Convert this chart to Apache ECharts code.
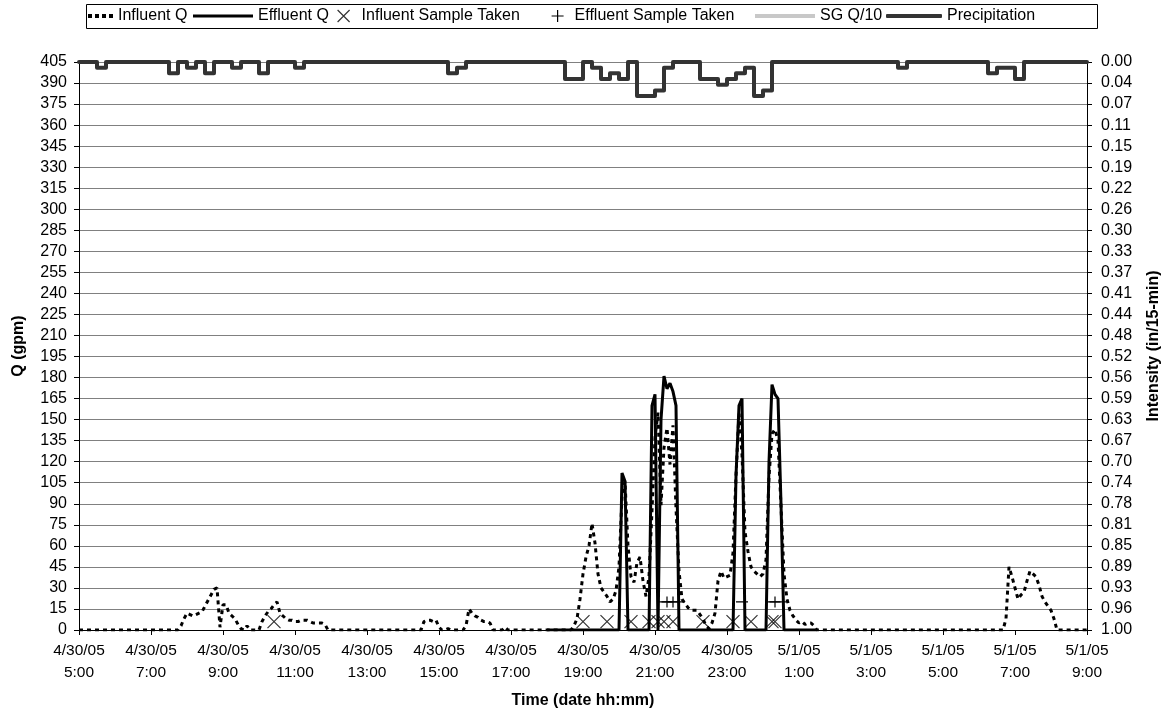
<!DOCTYPE html>
<html>
<head>
<meta charset="utf-8">
<script src="https://cdn.jsdelivr.net/npm/echarts@6/dist/echarts.min.js"></script>
<style>
  html, body { margin: 0; padding: 0; background: #fff; }
  #chart { width: 1165px; height: 717px; }
</style>
</head>
<body>
<div id="chart"></div>
<script>
// Time is counted in minutes after 4/30/05 5:00; flows are logged every 5 minutes.
const STEP_MIN = 5;
const RAIN_STEP_MIN = 15;

// x-axis tick labels (every 2 hours)
const xTickDates = ['4/30/05','4/30/05','4/30/05','4/30/05','4/30/05','4/30/05','4/30/05','4/30/05','4/30/05','4/30/05','5/1/05','5/1/05','5/1/05','5/1/05','5/1/05'];
const xTickTimes = ['5:00','7:00','9:00','11:00','13:00','15:00','17:00','19:00','21:00','23:00','1:00','3:00','5:00','7:00','9:00'];

// Influent Q (gpm), one row per clock hour, 12 readings each, 4/30 5:00 .. 5/1 9:00
const influentQ = [
  /* 05 */ 0,0,0,0,0,0,0,0,0,0,0,0,
  /* 06 */ 0,0,0,0,0,0,0,0,0,0,0,0,
  /* 07 */ 0,0,0,0,0,0,0,0,0,0,3,8,
  /* 08 */ 12,11,10,11,12,13,17,21,25,29,30,2,
  /* 09 */ 18,18,12,10,8,4,1,0,3,0,0,0,
  /* 10 */ 0,6,10,13,15,18,20,12,10,8,7,7,
  /* 11 */ 6,6,7,7,7,6,5,5,5,5,4,0,
  /* 12 */ 0,0,0,0,0,0,0,0,0,0,0,0,
  /* 13 */ 0,0,0,0,0,0,0,0,0,0,0,0,
  /* 14 */ 0,0,0,0,0,0,0,6,7,7,6,7,
  /* 15 */ 2,0,0,1,0,0,0,0,0,3,15,12,
  /* 16 */ 10,9,7,6,6,5,0,0,0,0,2,0,
  /* 17 */ 0,0,0,0,0,0,0,0,0,0,0,0,
  /* 18 */ 0,0,0,0,0,0,0,0,0,3,8,22,
  /* 19 */ 40,52,60,76,62,40,30,27,24,20,22,28,
  /* 20 */ 45,95,106,60,38,34,48,52,35,24,38,85,
  /* 21 */ 137,155,89,130,144,118,146,87,42,22,19,16,
  /* 22 */ 14,14,14,11,8,3,1,5,12,35,42,37,
  /* 23 */ 38,39,55,110,155,125,70,56,45,42,40,38,
  /* 00 */ 40,50,109,140,143,135,88,40,22,14,10,7,
  /* 01 */ 5,6,4,5,5,3,0,0,0,0,0,0,
  /* 02 */ 0,0,0,0,0,0,0,0,0,0,0,0,
  /* 03 */ 0,0,0,0,0,0,0,0,0,0,0,0,
  /* 04 */ 0,0,0,0,0,0,0,0,0,0,0,0,
  /* 05 */ 0,0,0,0,0,0,0,0,0,0,0,0,
  /* 06 */ 0,0,0,0,0,0,0,0,0,8,45,38,
  /* 07 */ 30,22,25,27,35,42,40,38,32,24,20,17,
  /* 08 */ 14,8,0,0,0,0,0,0,0,0,0,0,
  /* 09 */ 0
];

// Effluent Q (gpm), logged from 4/30 18:00 to 5/1 1:30
const effluentStart = '18:00';
const effluentQ = [
  /* 18 */ 0,0,0,0,0,0,0,0,0,0,0,0,
  /* 19 */ 0,0,0,0,0,0,0,0,0,0,0,0,
  /* 20 */ 0,112,106,0,0,0,0,0,0,0,0,160,
  /* 21 */ 168,0,150,181,172,176,170,160,0,0,0,0,
  /* 22 */ 0,0,0,0,0,0,0,0,0,0,0,0,
  /* 23 */ 0,0,0,110,160,165,0,0,0,0,0,0,
  /* 00 */ 0,0,120,175,168,165,90,0,0,0,0,0,
  /* 01 */ 0,0,0,0,0,0,0
];

// Sample events
const influentSampleTimes = ['10:25','19:00','19:40','20:20','20:50','21:05','21:15','21:30','22:20','23:10','23:40','0:15','0:20'];
const influentSampleQ = 6;
const effluentSampleTimes = ['21:20','21:30','0:20'];
const effluentSampleSpans = [['21:05','21:50'], ['23:15','23:35'], ['0:05','0:40']];
const effluentSampleQ = 20;

// Precipitation (in per 15 min), one value per 15-minute interval starting 4/30 5:00
const precipitation = [
  /* 05-06 */ 0,0,0.01,0,0,0,0,0,
  /* 07-08 */ 0,0,0.02,0,0.01,0,0.02,0,
  /* 09-10 */ 0,0.01,0,0,0.02,0,0,0,
  /* 11-12 */ 0.01,0,0,0,0,0,0,0,
  /* 13-14 */ 0,0,0,0,0,0,0,0,
  /* 15-16 */ 0,0.02,0.01,0,0,0,0,0,
  /* 17-18 */ 0,0,0,0,0,0,0.03,0.03,
  /* 19-20 */ 0,0.01,0.03,0.02,0.03,0,0.06,0.06,
  /* 21-22 */ 0.05,0.01,0,0,0,0.03,0.03,0.04,
  /* 23-00 */ 0.03,0.02,0.01,0.06,0.05,0,0,0,
  /* 01-02 */ 0,0,0,0,0,0,0,0,
  /* 03-04 */ 0,0,0,0.01,0,0,0,0,
  /* 05-06 */ 0,0,0,0,0,0.02,0.01,0.01,
  /* 07-08 */ 0.03,0,0,0,0,0,0,0
];

// SG Q/10 has no readings in this window
const sgQ10 = [];

const X_MAX = 28 * 60;
const Q_MAX = 405, Q_STEP = 15;
const RAIN_DIVS = 27;

// clock "h:mm" -> minutes after 4/30 5:00 (hours before 5 belong to 5/1)
function at(clock) {
  const [h, m] = clock.split(':').map(Number);
  const hh = h < 5 ? h + 24 : h;
  return (hh - 5) * 60 + m;
}

const PLUS_ICON = 'path://M5,0L5,10M0,5L10,5';
const X_ICON = 'path://M0,0L10,10M10,0L0,10';

const influentData = influentQ.map((v, i) => [i * STEP_MIN, v]);
const effluentData = effluentQ.map((v, i) => [at(effluentStart) + i * STEP_MIN, v]);
const precipData = precipitation.map((v, i) => [i * RAIN_STEP_MIN, v]);
precipData.push([X_MAX, precipitation[precipitation.length - 1]]);
const influentSampleData = influentSampleTimes.map(t => [at(t), influentSampleQ]);

// effluent sample markers, each with its sampling span drawn as a horizontal bar
const effluentSampleData = [];
effluentSampleSpans.forEach(([a, b], gi) => {
  const pts = [at(a), at(b)];
  effluentSampleTimes.forEach(t => { const x = at(t); if (x > pts[0] && x < pts[1]) pts.push(x); });
  pts.sort((p, q) => p - q);
  pts.forEach(x => {
    const isSample = effluentSampleTimes.some(t => at(t) === x);
    effluentSampleData.push({ value: [x, effluentSampleQ], symbol: isSample ? PLUS_ICON : 'none' });
  });
  if (gi < effluentSampleSpans.length - 1) effluentSampleData.push('-');
});

const rainTicks = [];
for (let k = 0; k <= RAIN_DIVS; k++) rainTicks.push(k / RAIN_DIVS);

const FONT = "'Liberation Sans', Arial, sans-serif";
const DOTS_ICON = 'path://M0,0h4v4h-4zM7,0h4v4h-4zM14,0h4v4h-4zM21,0h4v4h-4z';

const chart = echarts.init(document.getElementById('chart'), null, { renderer: 'canvas' });

function legendAt(item, left, itemWidth, itemHeight) {
  return {
    data: [item], left: left, top: 8, itemWidth: itemWidth, itemHeight: itemHeight,
    itemGap: 0, padding: 0, selectedMode: false,
    textStyle: { fontFamily: FONT, fontSize: 16, color: '#000' }
  };
}
const hollow = { color: 'rgba(0,0,0,0)', borderColor: '#000', borderWidth: 1.2 };

chart.setOption({
  animation: false,
  textStyle: { fontFamily: FONT },
  graphic: [{
    type: 'rect', shape: { x: 86.5, y: 4.5, width: 1011, height: 24 },
    style: { fill: 'none', stroke: '#000', lineWidth: 1 }, silent: true, z: 0
  }],
  legend: [
    legendAt({ name: 'Influent Q', icon: DOTS_ICON, itemStyle: { color: '#000', borderWidth: 0 } }, 88, 25, 4),
    legendAt({ name: 'Effluent Q', icon: 'rect', itemStyle: { color: '#000', borderWidth: 0 } }, 193, 60, 3),
    legendAt({ name: 'Influent Sample Taken', icon: X_ICON, itemStyle: hollow }, 337, 26, 12),
    legendAt({ name: 'Effluent Sample Taken', icon: PLUS_ICON, itemStyle: hollow }, 551, 24, 12),
    legendAt({ name: 'SG Q/10', icon: 'rect', itemStyle: { color: '#c8c8c8', borderWidth: 0 } }, 755, 60, 4),
    legendAt({ name: 'Precipitation', icon: 'roundRect', itemStyle: { color: '#333', borderWidth: 0 } }, 886, 56, 4)
  ],
  grid: { left: 79, right: 78, top: 62, bottom: 87, containLabel: false, outerBoundsMode: 'none' },
  xAxis: {
    type: 'value', min: 0, max: X_MAX, interval: 120,
    name: 'Time (date hh:mm)', nameLocation: 'middle', nameGap: 63,
    nameTextStyle: { fontFamily: FONT, fontSize: 16, fontWeight: 'bold', color: '#000' },
    axisLine: { show: true, lineStyle: { color: '#000', width: 1 } },
    axisTick: { show: true, length: 5, lineStyle: { color: '#000' } },
    splitLine: { show: false },
    axisLabel: {
      color: '#000', fontSize: 15.5, fontFamily: FONT, lineHeight: 22, margin: 10,
      formatter: v => { const i = Math.round(v / 120); return xTickDates[i] + '\n' + xTickTimes[i]; }
    }
  },
  yAxis: [{
    type: 'value', min: 0, max: Q_MAX, interval: Q_STEP,
    name: 'Q (gpm)', nameLocation: 'middle', nameGap: 52, nameRotate: 90,
    nameTextStyle: { fontFamily: FONT, fontSize: 16, fontWeight: 'bold', color: '#000' },
    axisLine: { show: true, lineStyle: { color: '#000', width: 1 } },
    axisTick: { show: true, length: 5, lineStyle: { color: '#000' } },
    splitLine: { show: true, lineStyle: { color: '#808080', width: 1 } },
    axisLabel: { color: '#000', fontSize: 16, fontFamily: FONT, margin: 12 }
  }, {
    type: 'value', min: 0, max: 1, inverse: true, position: 'right',
    name: 'Intensity (in/15-min)', nameLocation: 'middle', nameGap: 59, nameRotate: 90,
    nameTextStyle: { fontFamily: FONT, fontSize: 16, fontWeight: 'bold', color: '#000' },
    axisLine: { show: true, onZero: false, lineStyle: { color: '#000', width: 1 } },
    axisTick: { show: true, length: 5, customValues: rainTicks, lineStyle: { color: '#000' } },
    splitLine: { show: false },
    axisLabel: { color: '#000', fontSize: 16, fontFamily: FONT, margin: 14, customValues: rainTicks,
      formatter: v => v.toFixed(2) }
  }],
  series: [{
    name: 'Influent Q', type: 'line', data: influentData, symbol: 'none', z: 3,
    lineStyle: { color: '#000', width: 3, type: [4, 4] }, itemStyle: { color: '#000' }
  }, {
    name: 'Effluent Q', type: 'line', data: effluentData, symbol: 'none', z: 4,
    lineStyle: { color: '#000', width: 3 }, itemStyle: { color: '#000' }
  }, {
    name: 'Influent Sample Taken', type: 'scatter', data: influentSampleData,
    symbol: X_ICON, symbolSize: 13, z: 5, itemStyle: hollow
  }, {
    name: 'Effluent Sample Taken', type: 'line', data: effluentSampleData, z: 5,
    symbolSize: 11, showSymbol: true, connectNulls: false,
    lineStyle: { color: '#000', width: 1.2 }, itemStyle: hollow
  }, {
    name: 'SG Q/10', type: 'line', data: sgQ10, symbol: 'none',
    lineStyle: { color: '#c8c8c8', width: 4 }, itemStyle: { color: '#c8c8c8' }
  }, {
    name: 'Precipitation', type: 'line', yAxisIndex: 1, data: precipData, step: 'end',
    symbol: 'none', clip: false, z: 6,
    lineStyle: { color: '#333', width: 4, join: 'round', cap: 'round' }, itemStyle: { color: '#333' }
  }]
});
</script>
</body>
</html>
